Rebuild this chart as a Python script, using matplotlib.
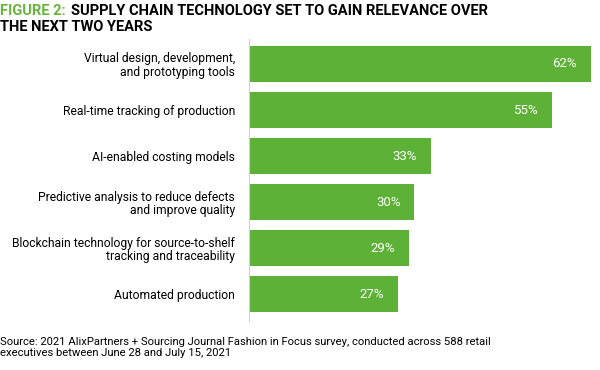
import matplotlib
matplotlib.use("Agg")
import matplotlib.pyplot as plt

categories = [
    "Virtual design, development,\nand prototyping tools",
    "Real-time tracking of production",
    "AI-enabled costing models",
    "Predictive analysis to reduce defects\nand improve quality",
    "Blockchain technology for source-to-shelf\ntracking and traceability",
    "Automated production",
]
values = [62, 55, 33, 30, 29, 27]

title_green = "FIGURE 2:"
title_black = "SUPPLY CHAIN TECHNOLOGY SET TO GAIN RELEVANCE OVER"
title_line2 = "THE NEXT TWO YEARS"
source = ("Source: 2021 AlixPartners + Sourcing Journal Fashion in Focus survey, conducted across 588 retail\n"
          "executives between June 28 and July 15, 2021")

font = "Roboto"
green = "#5db137"
fig = plt.figure(figsize=(6, 3.7), dpi=100)
ax = fig.add_axes([0.415, 0.1432, 0.57, 0.746])

y = list(range(len(values)))
ax.barh(y, values, height=0.78, color=green)
ax.set_xlim(0, 62)
ax.set_ylim(len(values) - 0.5, -0.5)

for i, v in enumerate(values):
    ax.text(v - 2.5, i, f"{v}%", color="white", ha="right", va="center",
            fontsize=9.5, family=font)

ax.set_yticks(y)
ax.set_yticklabels(categories, family=font, fontsize=8.7, linespacing=1.05)
ax.tick_params(axis="y", length=0, pad=10)
ax.set_xticks([])
for s in ["top", "right", "bottom"]:
    ax.spines[s].set_visible(False)
ax.spines["left"].set_color("#d0d0d0")
ax.spines["left"].set_linewidth(0.8)
ax.spines["left"].set_bounds(-0.55, 5.58)

t1 = fig.text(0.0, 0.99, title_green, color="#6ab43e", fontsize=10.5, weight="bold",
              family=font, va="top", ha="left")
fig.canvas.draw()
bb = t1.get_window_extent()
fig.text(bb.x1 / 600 + 0.009, 0.99, title_black, color="black", fontsize=10.5, weight="bold",
         family=font, va="top", ha="left")
fig.text(0.0, 0.946, title_line2, color="black", fontsize=10.5, weight="bold",
         family=font, va="top", ha="left")

fig.text(0.0, 0.09, source, fontsize=8.1, family=font, va="top", ha="left", linespacing=1.15)

fig.savefig("out.png", dpi=100)
